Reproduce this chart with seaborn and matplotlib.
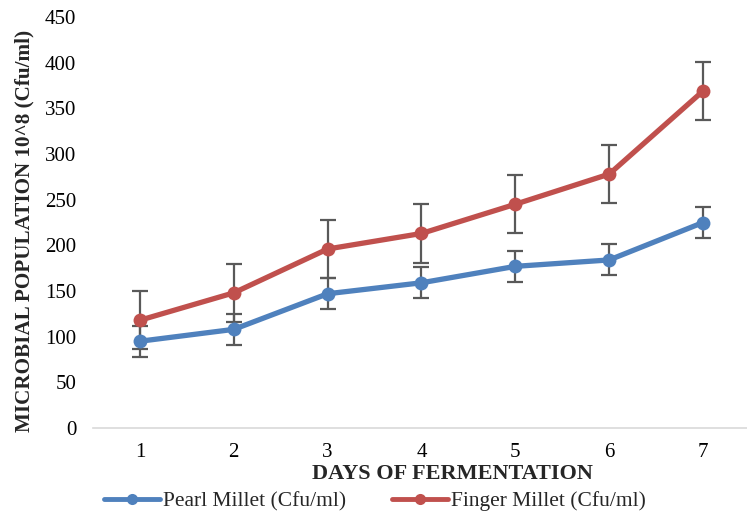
import matplotlib
matplotlib.use("Agg")
import matplotlib.pyplot as plt
import seaborn as sns
import pandas as pd
from matplotlib.lines import Line2D

days = [1, 2, 3, 4, 5, 6, 7]
pearl = [95, 108, 147, 159, 177, 184, 225]
finger = [118, 148, 196, 213, 245, 278, 369]
pearl_err = [17, 17, 17, 17, 17, 17, 17]
finger_err = [32, 32, 32, 32, 32, 32, 32]
series_names = ["Pearl Millet (Cfu/ml)", "Finger Millet (Cfu/ml)"]
colors = ["#4F81BD", "#C0504D"]

sns.set_theme(style="white")
plt.rcParams["font.family"] = ["Liberation Serif", "DejaVu Serif"]

df = pd.DataFrame({
    "day": days * 2,
    "value": pearl + finger,
    "series": [series_names[0]] * 7 + [series_names[1]] * 7,
})

fig = plt.figure(figsize=(7.47, 5.15), dpi=100)
ax = fig.add_axes([93 / 747, 1 - 428 / 515, (750 - 93) / 747, (428 - 17) / 515])

for vals, errs in [(pearl, pearl_err), (finger, finger_err)]:
    ax.errorbar(days, vals, yerr=errs, fmt="none", ecolor="#595959",
                elinewidth=1.6, capsize=5.5, capthick=1.6, zorder=1)

sns.lineplot(data=df, x="day", y="value", hue="series", palette=colors,
             marker="o", markersize=10, linewidth=3.8, markeredgewidth=0,
             ax=ax, zorder=3, legend=False)

ax.set_xlim(0.5, 7.5)
ax.set_ylim(0, 450)
ax.set_yticks(range(0, 451, 50))
ax.set_xticks(days)
ax.tick_params(axis="both", length=0, labelsize=15, colors="black")
ax.tick_params(axis="y", pad=12)
ax.tick_params(axis="x", pad=11)
for s in ["top", "right", "left"]:
    ax.spines[s].set_visible(False)
ax.spines["bottom"].set_color("#D9D9D9")
ax.spines["bottom"].set_linewidth(1.2)
ax.grid(False)
ax.set_xlabel("")
ax.set_ylabel("")

fig.text(452 / 747, 1 - 474 / 515, "DAYS OF FERMENTATION", ha="center", va="center",
         fontsize=16, fontweight="bold")
fig.text(24 / 747, 1 - 231 / 515, "MICROBIAL POPULATION 10^8 (Cfu/ml)", ha="center",
         va="center", rotation=90, fontsize=15.2, fontweight="bold")

handles = [Line2D([0], [0], color=c, lw=3.5, marker="o", markersize=8, markeredgewidth=0)
           for c in colors]
fig.legend(handles, series_names, loc="center", bbox_to_anchor=(375 / 747, 1 - 501 / 515),
           ncol=2, frameon=False, fontsize=15.5, handlelength=2.6, handletextpad=0.15,
           columnspacing=2.1, borderpad=0, borderaxespad=0)

fig.savefig("out.png", dpi=100)
